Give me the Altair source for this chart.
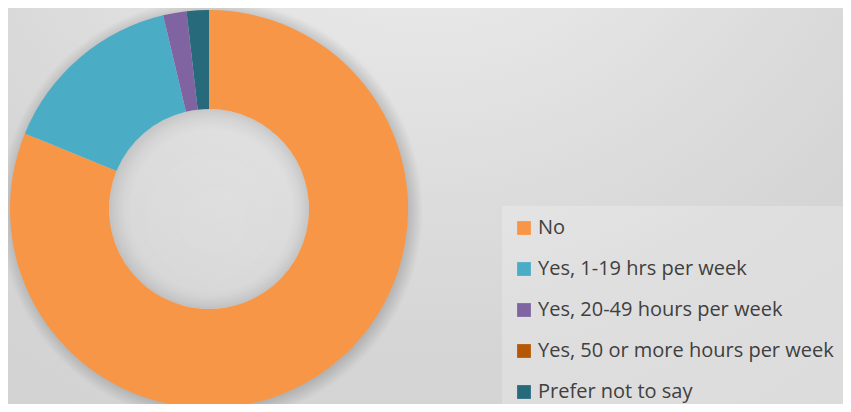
import altair as alt
import pandas as pd

categories = ["No", "Yes, 1-19 hrs per week", "Yes, 20-49 hours per week",
              "Yes, 50 or more hours per week", "Prefer not to say"]
values = [81.2, 15.1, 1.9, 0.0, 1.8]
colors = ["#F79646", "#4BACC6", "#8064A2", "#B65708", "#276A7C"]

W, H = 835, 396
CX, CY = 201, 201

df = pd.DataFrame({"category": categories, "value": values,
                   "order": list(range(len(categories)))})
one = pd.DataFrame({"k": [0]})

bg = alt.Chart(one).mark_rect(
    color=alt.RadialGradient(
        gradient="radial", x1=0.5, y1=0.0, r1=0.0, x2=0.5, y2=0.0, r2=1.0,
        stops=[alt.GradientStop(offset=0, color="#f3f3f3"),
               alt.GradientStop(offset=0.5, color="#dcdcdc"),
               alt.GradientStop(offset=0.68, color="#d5d5d5"),
               alt.GradientStop(offset=1, color="#d2d2d2")])
).encode(x=alt.value(0), x2=alt.value(W), y=alt.value(0), y2=alt.value(H))

shadow = alt.Chart(one).mark_arc(
    innerRadius=190, outerRadius=212, theta=0, theta2=6.2832,
    color=alt.RadialGradient(
        gradient="radial", x1=0.5, y1=0.5, r1=0.0, x2=0.5, y2=0.5, r2=0.5,
        stops=[alt.GradientStop(offset=0, color="rgba(0,0,0,0)"),
               alt.GradientStop(offset=0.93, color="rgba(0,0,0,0.16)"),
               alt.GradientStop(offset=1, color="rgba(0,0,0,0)")])
).encode(x=alt.value(CX + 2), y=alt.value(CY + 2))

hole = alt.Chart(one).mark_arc(
    innerRadius=0, outerRadius=100, theta=0, theta2=6.2832,
    color=alt.RadialGradient(
        gradient="radial", x1=0.55, y1=0.55, r1=0.0, x2=0.5, y2=0.5, r2=0.5,
        stops=[alt.GradientStop(offset=0, color="rgba(255,255,255,0.12)"),
               alt.GradientStop(offset=0.8, color="rgba(255,255,255,0.05)"),
               alt.GradientStop(offset=1, color="rgba(0,0,0,0.10)")])
).encode(x=alt.value(CX), y=alt.value(CY))

donut = alt.Chart(df).mark_arc(innerRadius=100, outerRadius=199).encode(
    theta=alt.Theta("value:Q", stack=True),
    order=alt.Order("order:Q"),
    color=alt.Color(
        "category:N",
        scale=alt.Scale(domain=categories, range=colors),
        sort=categories,
        legend=alt.Legend(
            title=None, orient="none", legendX=494, legendY=198,
            symbolType="square", symbolSize=190, symbolStrokeWidth=0,
            labelFont="Open Sans", labelFontSize=20, labelColor="#404040",
            labelOffset=4, rowPadding=21, padding=12,
            fillColor="rgba(255,255,255,0.22)", labelLimit=400,
        ),
    ),
    x=alt.value(CX), y=alt.value(CY),
)

chart = alt.layer(bg, shadow, hole, donut).properties(
    width=W, height=H, padding=0,
    autosize=alt.AutoSizeParams(type="none"),
).configure_view(stroke=None).configure(background="#d8d8d8")

chart.save("out.html", embed_options={"renderer": "svg", "actions": False})
